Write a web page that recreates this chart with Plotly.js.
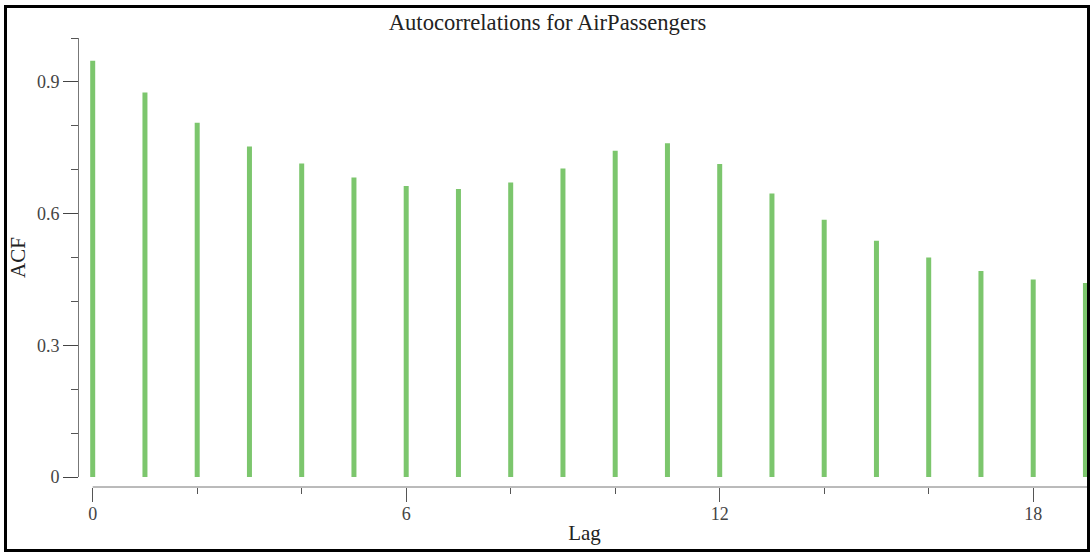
<!DOCTYPE html>
<html>
<head>
<meta charset="utf-8">
<script src="https://cdn.plot.ly/plotly-3.0.1.min.js"></script>
<style>
  html, body { margin: 0; padding: 0; background: #fff; overflow: hidden; }
  #chart { position: absolute; left: 0; top: 0; width: 1090px; height: 552px; }
  #frame { position: absolute; left: 4px; top: 5px; width: 1080px; height: 541px;
           border: 3px solid #000; pointer-events: none; }
</style>
</head>
<body>
<div id="chart"></div>
<div id="frame"></div>
<script>
// Data
const lags = [0, 1, 2, 3, 4, 5, 6, 7, 8, 9, 10, 11, 12, 13, 14, 15, 16, 17, 18, 19];
const acfValues = [0.948, 0.876, 0.807, 0.753, 0.714, 0.682, 0.663, 0.656, 0.671, 0.703,
                   0.743, 0.760, 0.713, 0.646, 0.586, 0.538, 0.500, 0.469, 0.450, 0.442];
const xTickVals = [0, 6, 12, 18];
const yTickVals = [0, 0.3, 0.6, 0.9];
const chartTitle = "Autocorrelations for AirPassengers";
const xTitle = "Lag";
const yTitle = "ACF";

const serif = "Liberation Serif, Times New Roman, serif";
const W = 1090, H = 552;
const plotLeft = 79, plotTop = 38, plotBottom = 487;
const lag0Px = 92.7, lagStep = 52.25, zeroPx = 477;
const plotW = W - plotLeft, plotH = plotBottom - plotTop;
const xMin = (plotLeft - lag0Px) / lagStep;
const xMax = (W - lag0Px) / lagStep;

const trace = {
  type: 'bar',
  x: lags,
  y: acfValues,
  width: 5 / lagStep,
  marker: { color: '#7cc66d', line: { width: 0 } },
  hoverinfo: 'x+y'
};

const layout = {
  width: W,
  height: H,
  margin: { l: plotLeft, r: 0, t: plotTop, b: H - plotBottom, pad: 0 },
  paper_bgcolor: '#fff',
  plot_bgcolor: 'rgba(0,0,0,0)',
  showlegend: false,
  font: { family: serif, color: '#333' },
  title: {
    text: chartTitle,
    font: { family: serif, size: 22.6, color: '#222' },
    xref: 'container', x: 547.5 / W, xanchor: 'center',
    yref: 'container', y: 1 - 14 / H, yanchor: 'top'
  },
  xaxis: {
    domain: [0, 1],
    range: [xMin, xMax],
    anchor: 'free', position: 0,
    showline: false,
    showgrid: false, zeroline: false,
    tickmode: 'array', tickvals: xTickVals,
    ticks: 'outside', ticklen: 14, tickcolor: '#555', tickwidth: 1,
    minor: { dtick: 2, tick0: 0, ticks: 'outside', ticklen: 6, tickcolor: '#555', tickwidth: 1, showgrid: false },
    tickfont: { family: serif, size: 18, color: '#444' },
    ticklabelstandoff: -4,
    title: { text: xTitle, font: { family: serif, size: 21, color: '#222' }, standoff: 2 },
    fixedrange: true
  },
  yaxis: {
    domain: [(plotBottom - zeroPx) / plotH, 1],
    range: [0, 1],
    anchor: 'x',
    showline: true, linecolor: '#777', linewidth: 1,
    showgrid: false, zeroline: false,
    tickmode: 'array', tickvals: yTickVals,
    ticks: 'outside', ticklen: 15, tickcolor: '#444', tickwidth: 1,
    minor: { dtick: 0.1, tick0: 0, ticks: 'outside', ticklen: 7, tickcolor: '#555', tickwidth: 1, showgrid: false },
    tickfont: { family: serif, size: 18, color: '#444' },
    title: { text: yTitle, font: { family: serif, size: 21, color: '#222' }, standoff: 5 },
    fixedrange: true
  },
  shapes: [{
    type: 'line', layer: 'below',
    xref: 'x', yref: 'paper',
    x0: lags[0], x1: xMax, y0: 0, y1: 0,
    line: { color: '#777', width: 1 }
  }]
};

Plotly.newPlot('chart', [trace], layout, { displayModeBar: false, staticPlot: true });
</script>
</body>
</html>
